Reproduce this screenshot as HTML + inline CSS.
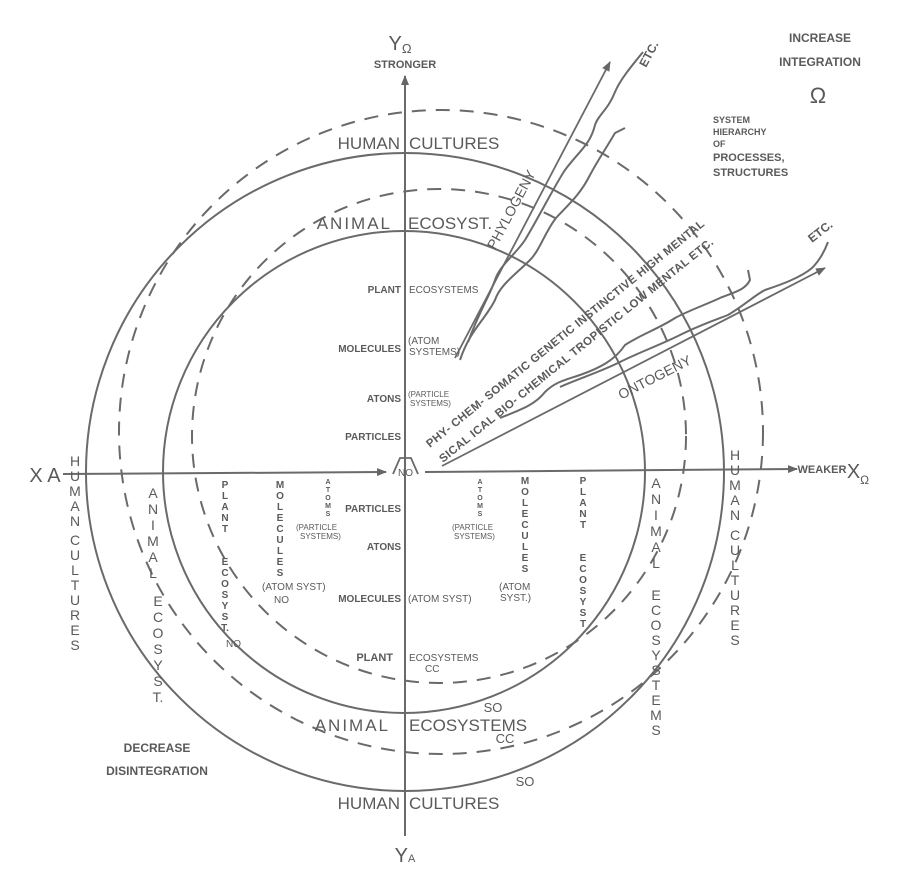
<!DOCTYPE html>
<html><head><meta charset="utf-8"><style>
body{margin:0;background:#fff}
svg{display:block}
text{font-family:"Liberation Sans",sans-serif;fill:#5a5a5a}
.b{font-weight:bold}
</style></head><body>
<svg width="900" height="879" viewBox="0 0 900 879" xmlns="http://www.w3.org/2000/svg">
<defs><marker id="ar" markerWidth="10" markerHeight="8" refX="9" refY="4" orient="auto" markerUnits="userSpaceOnUse"><path d="M0,0 L10,4 L0,8 z" fill="#666"/></marker></defs>
<g fill="none" stroke="#6a6a6a" stroke-width="2">
<circle cx="405" cy="472" r="319"/>
<circle cx="404" cy="472" r="241"/>
<circle cx="441" cy="432" r="322" stroke-dasharray="14,10"/>
<circle cx="439" cy="436" r="247" stroke-dasharray="14,10"/>
<line x1="405" y1="836" x2="405" y2="76" marker-end="url(#ar)"/>
<line x1="63" y1="474" x2="386" y2="472" marker-end="url(#ar)"/>
<line x1="425" y1="472" x2="797" y2="469" marker-end="url(#ar)"/>
<line x1="442" y1="466" x2="825" y2="268" marker-end="url(#ar)" stroke-width="1.8"/>
<line x1="455" y1="358" x2="610" y2="62" marker-end="url(#ar)" stroke-width="1.8"/>
<path d="M393,474 L400,458 L411,458 L418,474" stroke-width="1.8"/>
<path d="M643,52 C630,68 620,80 615,92 C608,110 598,115 595,125 C590,145 580,150 565,170 C555,185 540,215 525,240 C515,255 500,265 495,280 C490,295 480,310 468,342"/>
<path d="M625,128 L615,133 C605,150 598,160 590,175 C580,195 568,205 556,218 C545,232 540,250 530,260 C515,275 500,285 495,300 C485,320 470,330 460,360"/>
<path d="M500,418 C520,410 535,405 545,392 C555,382 565,380 580,375 C600,368 615,360 625,345 C640,335 660,328 675,318 C690,310 705,305 720,298 C735,292 745,290 750,280 L748,270"/>
<path d="M560,387 C580,378 600,372 620,362 C640,352 660,345 680,335 C700,325 715,320 728,315 C745,305 755,295 765,290 C780,285 800,278 812,268 C820,260 825,250 828,242"/>
</g>
<g font-size="17" text-anchor="end">
<text x="400" y="149">HUMAN</text>
<text x="392" y="229" letter-spacing="2">ANIMAL</text>
<text x="400" y="809">HUMAN</text>
<text x="390" y="731" letter-spacing="2">ANIMAL</text>
</g>
<g font-size="17">
<text x="409" y="149">CULTURES</text>
<text x="408" y="229">ECOSYST.</text>
<text x="409" y="809">CULTURES</text>
<text x="409" y="731">ECOSYSTEMS</text>
</g>
<g font-size="13" text-anchor="middle">
<text x="505" y="743">CC</text>
<text x="493" y="712">SO</text>
<text x="525" y="786">SO</text>
</g>
<text x="655" y="382" font-size="14" text-anchor="middle" transform="rotate(-27 655 378)">ONTOGENY</text>
<text x="512" y="214" font-size="14" text-anchor="middle" transform="rotate(-62 512 210)">PHYLOGENY</text>
<text x="430" y="448" font-size="11.5" class="b" letter-spacing="0.4" transform="rotate(-39 430 448)">PHY- CHEM- SOMATIC  GENETIC  INSTINCTIVE HIGH MENTAL</text>
<text x="443" y="463" font-size="11.5" class="b" letter-spacing="0.4" transform="rotate(-39 443 463)">SICAL ICAL  BIO- CHEMICAL    TROPISTIC  LOW MENTAL ETC.</text>
<text x="646" y="68" font-size="12" class="b" transform="rotate(-62 646 68)">ETC.</text>
<text x="812" y="243" font-size="12" class="b" transform="rotate(-38 812 243)">ETC.</text>
<g class="b" font-size="10" text-anchor="end">
<text x="401" y="293">PLANT</text><text x="401" y="352">MOLECULES</text><text x="401" y="402">ATONS</text><text x="401" y="440">PARTICLES</text>
<text x="401" y="512">PARTICLES</text><text x="401" y="550">ATONS</text><text x="401" y="602">MOLECULES</text><text x="393" y="661" font-size="11">PLANT</text>
</g>
<g font-size="10" >
<text x="409" y="293">ECOSYSTEMS</text>
<text x="408" y="344">(ATOM</text><text x="409" y="355">SYSTEMS)</text>
<text x="408" y="397" font-size="8">(PARTICLE</text><text x="410" y="406" font-size="8">SYSTEMS)</text>
<text x="408" y="602">(ATOM SYST)</text>
<text x="409" y="661">ECOSYSTEMS</text>
<text x="425" y="672">CC</text>
<text x="398" y="476" font-size="10">NO</text>
<text x="262" y="590">(ATOM SYST)</text><text x="274" y="603">NO</text>
<text x="226" y="647">NO</text>
<text x="296" y="530" font-size="8">(PARTICLE</text><text x="300" y="539" font-size="8">SYSTEMS)</text>
<text x="452" y="530" font-size="8">(PARTICLE</text><text x="454" y="539" font-size="8">SYSTEMS)</text>
<text x="499" y="590">(ATOM</text><text x="500" y="601">SYST.)</text>
</g>
<g text-anchor="middle" font-size="16">
<text x="400" y="50" font-size="20">Y<tspan font-size="13" dy="3">Ω</tspan></text>
<text x="405" y="68" font-size="11" class="b">STRONGER</text>
<text x="405" y="862" font-size="20">Y<tspan font-size="11">A</tspan></text>
<text x="45" y="482" font-size="20">X A</text>
<text x="822" y="473" font-size="11" class="b">WEAKER</text>
<text x="858" y="478" font-size="20">X<tspan font-size="12" dy="6">Ω</tspan></text>
<text x="820" y="42" font-size="12" class="b">INCREASE</text>
<text x="820" y="66" font-size="12" class="b">INTEGRATION</text>
<text x="818" y="103" font-size="22">Ω</text>
<text x="157" y="752" font-size="12" class="b">DECREASE</text>
<text x="157" y="775" font-size="12" class="b">DISINTEGRATION</text>
</g>
<g font-size="11" class="b">
<text x="713" y="123" font-size="9">SYSTEM</text><text x="713" y="135" font-size="9">HIERARCHY</text><text x="713" y="147" font-size="9">OF</text>
<text x="713" y="161">PROCESSES,</text><text x="713" y="176">STRUCTURES</text>
</g>
<g font-size="14" text-anchor="middle">
<text x="75" y="466">H</text><text x="75" y="481">U</text><text x="75" y="496">M</text><text x="75" y="511">A</text><text x="75" y="526">N</text>
<text x="75" y="545">C</text><text x="75" y="560">U</text><text x="75" y="575">L</text><text x="75" y="590">T</text><text x="75" y="605">U</text><text x="75" y="620">R</text><text x="75" y="635">E</text><text x="75" y="650">S</text>
<text x="735" y="460">H</text><text x="735" y="475">U</text><text x="735" y="490">M</text><text x="735" y="505">A</text><text x="735" y="520">N</text>
<text x="735" y="540">C</text><text x="735" y="555">U</text><text x="735" y="570">L</text><text x="735" y="585">T</text><text x="735" y="600">U</text><text x="735" y="615">R</text><text x="735" y="630">E</text><text x="735" y="645">S</text>
<text x="153" y="498">A</text><text x="153" y="514">N</text><text x="153" y="530">I</text><text x="153" y="546">M</text><text x="153" y="562">A</text><text x="153" y="578">L</text>
<text x="158" y="606">E</text><text x="158" y="622">C</text><text x="158" y="638">O</text><text x="158" y="654">S</text><text x="158" y="670">Y</text><text x="158" y="686">S</text><text x="158" y="702">T.</text>
<text x="656" y="488">A</text><text x="656" y="504">N</text><text x="656" y="520">I</text><text x="656" y="536">M</text><text x="656" y="552">A</text><text x="656" y="568">L</text>
<text x="656" y="600">E</text><text x="656" y="615">C</text><text x="656" y="630">O</text><text x="656" y="645">S</text><text x="656" y="660">Y</text><text x="656" y="675">S</text><text x="656" y="690">T</text><text x="656" y="705">E</text><text x="656" y="720">M</text><text x="656" y="735">S</text>
</g>
<g font-size="10" class="b" text-anchor="middle">
<text x="225" y="488">P</text><text x="225" y="499">L</text><text x="225" y="510">A</text><text x="225" y="521">N</text><text x="225" y="532">T</text>
<text x="225" y="565">E</text><text x="225" y="576">C</text><text x="225" y="587">O</text><text x="225" y="598">S</text><text x="225" y="609">Y</text><text x="225" y="620">S</text><text x="225" y="631">T.</text>
<text x="583" y="484">P</text><text x="583" y="495">L</text><text x="583" y="506">A</text><text x="583" y="517">N</text><text x="583" y="528">T</text>
<text x="583" y="561">E</text><text x="583" y="572">C</text><text x="583" y="583">O</text><text x="583" y="594">S</text><text x="583" y="605">Y</text><text x="583" y="616">S</text><text x="583" y="627">T</text>
<text x="280" y="488">M</text><text x="280" y="499">O</text><text x="280" y="510">L</text><text x="280" y="521">E</text><text x="280" y="532">C</text><text x="280" y="543">U</text><text x="280" y="554">L</text><text x="280" y="565">E</text><text x="280" y="576">S</text>
<text x="525" y="484">M</text><text x="525" y="495">O</text><text x="525" y="506">L</text><text x="525" y="517">E</text><text x="525" y="528">C</text><text x="525" y="539">U</text><text x="525" y="550">L</text><text x="525" y="561">E</text><text x="525" y="572">S</text>
</g>
<g font-size="7" class="b" text-anchor="middle">
<text x="328" y="484">A</text><text x="328" y="492">T</text><text x="328" y="500">O</text><text x="328" y="508">M</text><text x="328" y="516">S</text>
<text x="480" y="484">A</text><text x="480" y="492">T</text><text x="480" y="500">O</text><text x="480" y="508">M</text><text x="480" y="516">S</text>
</g>
</svg>
</body></html>
